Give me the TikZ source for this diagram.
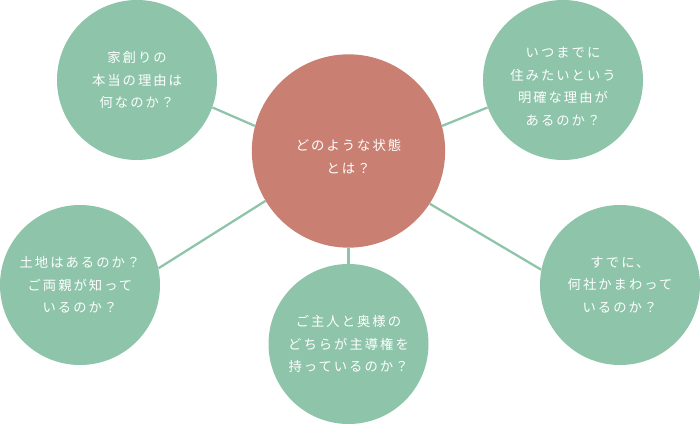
\documentclass[tikz,border=0pt]{standalone}
\usepackage{fontspec}
\setmainfont[LetterSpace=15]{Noto Sans CJK JP}
\usepackage{tikz}
\usetikzlibrary{positioning}
\definecolor{verde}{RGB}{141, 196, 170}
\definecolor{teja}{RGB}{201, 128, 115}
\tikzset{
    hoja/.style={circle, fill=verde, draw=none, text=white, inner sep=0pt, minimum size=120pt, align=center, font=\fontsize{10}{17}\selectfont},
    centro/.style={circle, fill=teja, draw=none, text=white, inner sep=0pt, minimum size=145pt, align=center, font=\fontsize{10}{17}\selectfont},
    lbl/.style={text=white, align=center, inner sep=0pt, font=\fontsize{10}{17}\selectfont},
    conn/.style={-, verde, line width=1.7pt},
}
\begin{document}
\begin{tikzpicture}[x=0.75pt, y=-0.75pt]
        \useasboundingbox (0,0) rectangle (700,424);

        \node [centro, label={[lbl, yshift=-4pt]center:どのような状態\\とは？}] (c) at (348.5,151) {};

        \node [hoja] (q1) at (137,80) {家創りの\\本当の理由は\\何なのか？};
        \node [hoja, label={[lbl, yshift=-5pt]center:いつまでに\\住みたいという\\明確な理由が\\あるのか？}] (q2) at (563,80) {};
        \node [hoja] (q3) at (80,285) {土地はあるのか？\\ご両親が知って\\いるのか？};
        \node [hoja] (q4) at (348.5,344) {ご主人と奥様の\\どちらが主導権を\\持っているのか？};
        \node [hoja] (q5) at (620,285) {すでに、\\何社かまわって\\いるのか？};

        \draw [conn] (q1.-20) -- (c.165);
        \draw [conn] (q2.200) -- (c.15);
        \draw [conn] (q3.12) -- (c.211);
        \draw [conn] (q4.north) -- (c.south);
        \draw [conn] (q5.169) -- (c.-33);
    \end{tikzpicture}
\end{document}
